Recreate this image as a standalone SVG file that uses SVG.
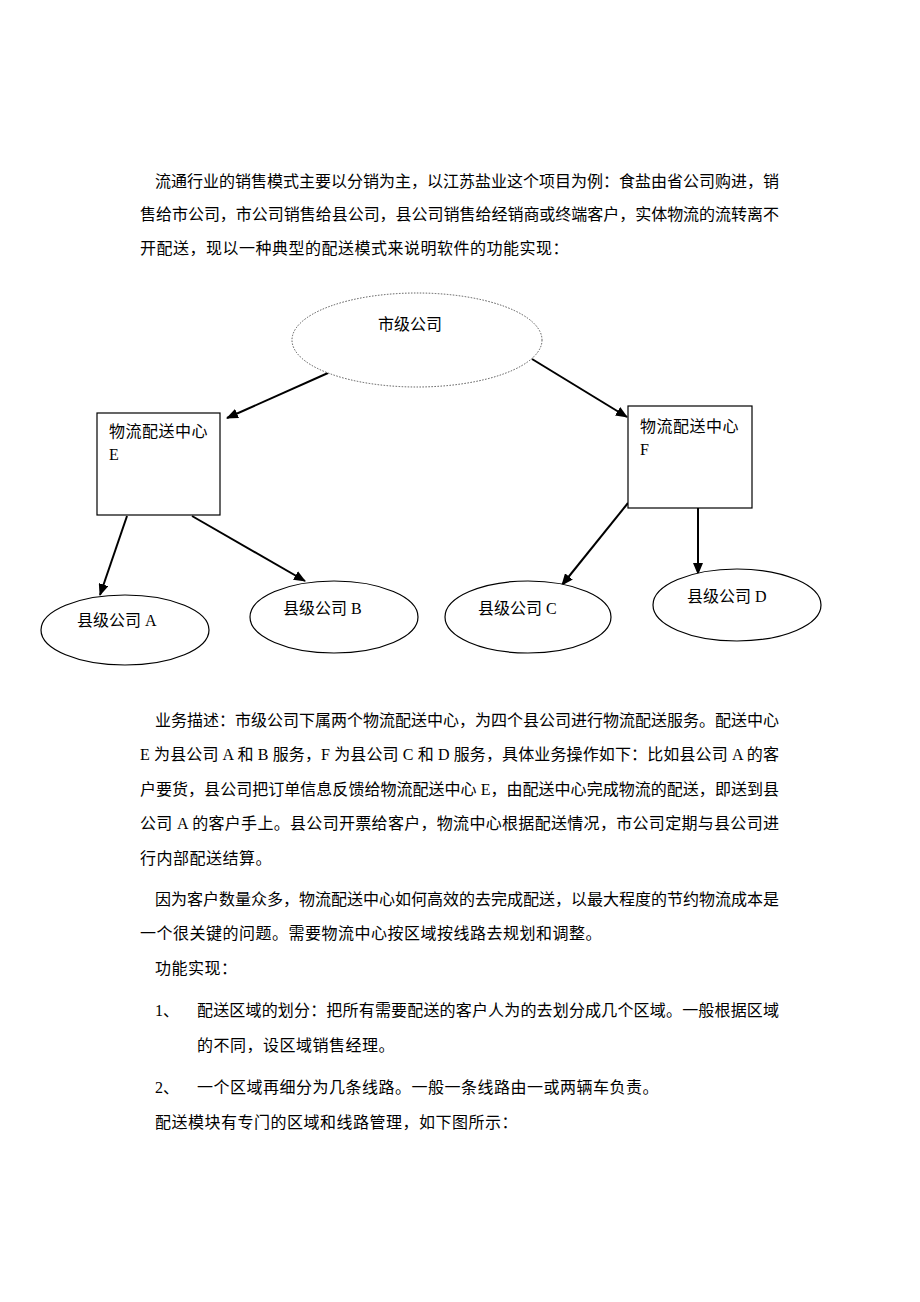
<svg xmlns="http://www.w3.org/2000/svg" width="920" height="1302" viewBox="0 0 920 1302">
<style>
text{font-family:"Liberation Serif","Noto Sans CJK SC",serif;font-size:16px;fill:#000}
.ls{letter-spacing:0.5px}
.shape{fill:#fff;stroke:#000;stroke-width:1.2}
.dotted{fill:#fff;stroke:#555;stroke-width:1;stroke-dasharray:1.5 1.5}
.edge{stroke:#000;stroke-width:2;fill:none;marker-end:url(#ah)}
</style>
<defs>
<marker id="ah" viewBox="0 0 12 10" refX="11" refY="5" markerWidth="12" markerHeight="10" markerUnits="userSpaceOnUse" orient="auto">
<path d="M0,0 L12,5 L0,10 Z" fill="#000"/>
</marker>
</defs>
<rect width="920" height="1302" fill="#fff"/>

<g id="para1">
<text x="155" y="187" textLength="624" lengthAdjust="spacing">流通行业的销售模式主要以分销为主，以江苏盐业这个项目为例：食盐由省公司购进，销</text>
<text x="140" y="220" textLength="639" lengthAdjust="spacing">售给市公司，市公司销售给县公司，县公司销售给经销商或终端客户，实体物流的流转离不</text>
<text class="ls" x="140" y="254">开配送，现以一种典型的配送模式来说明软件的功能实现：</text>
</g>

<g id="connectors">
<line class="edge" x1="328" y1="373" x2="227" y2="418"/>
<line class="edge" x1="532" y1="359" x2="627" y2="417"/>
<line class="edge" x1="127" y1="516" x2="100" y2="595"/>
<line class="edge" x1="192" y1="516" x2="305" y2="581"/>
<line class="edge" x1="628" y1="503" x2="562" y2="585"/>
<line class="edge" x1="698" y1="503" x2="698" y2="574"/>
</g>

<g id="node-city">
<ellipse class="dotted" cx="417" cy="340" rx="125" ry="47"/>
<text x="378" y="330">市级公司</text>
</g>
<g id="node-E">
<rect class="shape" x="97" y="413" width="123" height="102"/>
<text class="ls" x="109" y="437">物流配送中心</text>
<text x="109" y="460">E</text>
</g>
<g id="node-F">
<rect class="shape" x="628" y="406" width="124" height="102"/>
<text class="ls" x="640" y="432">物流配送中心</text>
<text x="640" y="455">F</text>
</g>
<g id="node-A">
<ellipse class="shape" cx="125" cy="630" rx="84" ry="35"/>
<text x="77" y="626">县级公司 A</text>
</g>
<g id="node-B">
<ellipse class="shape" cx="334" cy="617" rx="84" ry="36"/>
<text x="283" y="614">县级公司 B</text>
</g>
<g id="node-C">
<ellipse class="shape" cx="528" cy="617" rx="83" ry="36"/>
<text x="478" y="614">县级公司 C</text>
</g>
<g id="node-D">
<ellipse class="shape" cx="737" cy="605" rx="84" ry="36"/>
<text x="687" y="602">县级公司 D</text>
</g>

<g id="para2">
<text x="155" y="726" textLength="624" lengthAdjust="spacing">业务描述：市级公司下属两个物流配送中心，为四个县公司进行物流配送服务。配送中心</text>
<text x="140" y="760" textLength="639" lengthAdjust="spacing">E 为县公司 A 和 B 服务，F 为县公司 C 和 D 服务，具体业务操作如下：比如县公司 A 的客</text>
<text x="140" y="795" textLength="639" lengthAdjust="spacing">户要货，县公司把订单信息反馈给物流配送中心 E，由配送中心完成物流的配送，即送到县</text>
<text x="140" y="829" textLength="639" lengthAdjust="spacing">公司 A 的客户手上。县公司开票给客户，物流中心根据配送情况，市公司定期与县公司进</text>
<text class="ls" x="140" y="864">行内部配送结算。</text>
<text x="155" y="905" textLength="624" lengthAdjust="spacing">因为客户数量众多，物流配送中心如何高效的去完成配送，以最大程度的节约物流成本是</text>
<text class="ls" x="140" y="939">一个很关键的问题。需要物流中心按区域按线路去规划和调整。</text>
<text class="ls" x="155" y="974">功能实现：</text>
<text x="155" y="1016">1、</text>
<text x="197" y="1016" textLength="582" lengthAdjust="spacing">配送区域的划分：把所有需要配送的客户人为的去划分成几个区域。一般根据区域</text>
<text class="ls" x="197" y="1051">的不同，设区域销售经理。</text>
<text x="155" y="1093">2、</text>
<text class="ls" x="197" y="1093">一个区域再细分为几条线路。一般一条线路由一或两辆车负责。</text>
<text class="ls" x="155" y="1128">配送模块有专门的区域和线路管理，如下图所示：</text>
</g>
</svg>
